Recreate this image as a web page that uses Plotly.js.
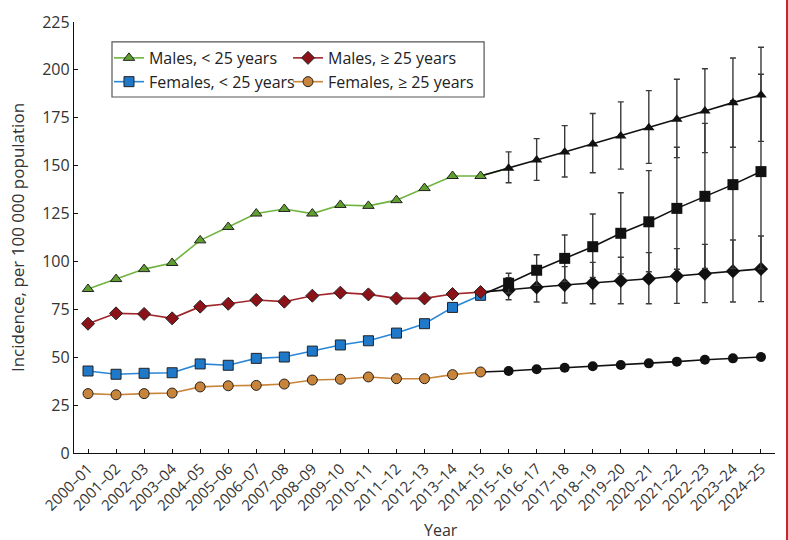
<!DOCTYPE html>
<html>
<head>
<meta charset="utf-8">
<script src="https://cdn.plot.ly/plotly-3.0.1.min.js"></script>
<style>
html,body{margin:0;padding:0;background:#fff;}
#chart{width:788px;height:540px;position:relative;}
#redline{position:absolute;left:786px;top:0;width:2px;height:540px;background:#c8262c;}
</style>
</head>
<body>
<div id="chart"></div>
<div id="redline"></div>
<script>
// ---- data ----
const years = ["2000–01","2001–02","2002–03","2003–04","2004–05","2005–06","2006–07","2007–08","2008–09","2009–10","2010–11","2011–12","2012–13","2013–14","2014–15"];
const projYears = ["2015–16","2016–17","2017–18","2018–19","2019–20","2020–21","2021–22","2022–23","2023–24","2024–25"];

const malesUnder25 = [85.6,90.8,96.0,99.2,111.0,118.0,125.0,127.4,125.0,129.5,129.0,132.0,138.3,144.6,144.6];
const malesOver25 = [67.5,72.9,72.6,70.3,76.4,77.9,79.9,79.0,82.1,83.7,82.8,80.7,80.7,83.0,84.0];
const femalesUnder25 = [42.8,41.1,41.6,41.9,46.5,45.8,49.4,50.1,53.2,56.4,58.6,62.6,67.5,76.0,82.3];
const femalesOver25 = [31.0,30.4,31.0,31.3,34.5,35.1,35.3,36.0,38.1,38.5,39.7,38.8,38.8,40.9,42.3];

const projMalesUnder25 = [148.6,153.0,157.1,161.3,165.5,169.8,174.2,178.5,182.9,186.9];
const projMalesUnder25Hi = [157.2,164.1,170.9,177.2,183.3,189.2,195.1,200.6,206.2,211.8];
const projMalesUnder25Lo = [141.1,142.3,144.1,146.3,148.2,151.2,154.2,156.8,159.6,162.7];

const projFemalesUnder25 = [88.6,95.4,101.6,107.7,114.7,120.7,127.7,134.0,140.1,146.9];
const projFemalesUnder25Hi = [93.8,103.5,113.8,124.8,135.9,147.4,159.6,172.1,183.9,197.7];
const projFemalesUnder25Lo = [83.5,87.5,89.5,91.7,93.5,94.6,95.9,96.4,96.3,96.1];

const projMalesOver25 = [85.1,86.5,87.7,88.7,89.9,91.0,92.4,93.6,94.9,96.1];
const projMalesOver25Hi = [91.5,94.5,97.3,99.5,102.2,104.6,106.7,108.9,111.2,113.3];
const projMalesOver25Lo = [80.0,78.8,78.3,77.9,77.9,77.9,78.1,78.5,78.8,79.0];

const projFemalesOver25 = [42.8,43.7,44.5,45.3,45.9,46.8,47.7,48.7,49.4,50.1];

const seriesNames = ["Males, < 25 years","Males, ≥ 25 years","Females, < 25 years","Females, ≥ 25 years"];
const tickVals = [0,25,50,75,100,125,150,175,200,225];
const xTitle = "Year";
const yTitle = "Incidence, per 100 000 population";

// ---- build ----
const FONT = "Open Sans, sans-serif";
const allYears = years.concat(projYears);

function proj(vals, hi, lo, symbol, size, joinHist) {
  const last = joinHist[joinHist.length-1];
  const x = [years[years.length-1]].concat(projYears);
  const y = [last].concat(vals);
  const t = {
    x: x, y: y, type: "scatter", mode: "lines+markers", showlegend: false, hoverinfo: "skip",
    line: {color: "#111", width: 1.6},
    marker: {symbol: symbol, color: "#111", opacity: 1, size: [0].concat(vals.map(() => size)), line: {width: 0}}
  };
  if (hi) {
    t.error_y = {type: "data", symmetric: false,
      array: [null].concat(hi.map((h,i) => h - vals[i])),
      arrayminus: [null].concat(lo.map((l,i) => vals[i] - l)),
      color: "#3a3a3a", thickness: 1.4, width: 3};
  }
  return t;
}

function hist(name, vals, color, lineColor, symbol, size, legend) {
  return {
    x: years, y: vals, name: name, type: "scatter", mode: "lines+markers", legend: legend,
    line: {color: lineColor, width: 1.6},
    marker: {symbol: symbol, color: color, size: size, line: {color: "#222", width: 1}}
  };
}

// green line continues into first projected year
const greenJoin = {
  x: [years[years.length-1], projYears[0]], y: [malesUnder25[malesUnder25.length-1], projMalesUnder25[0]],
  type: "scatter", mode: "lines", showlegend: false, hoverinfo: "skip", line: {color: "#6fb43f", width: 1.6}
};

const traces = [
  greenJoin,
  proj(projFemalesOver25, null, null, "circle", 10, femalesOver25),
  proj(projMalesOver25, projMalesOver25Hi, projMalesOver25Lo, "diamond", 11, malesOver25),
  proj(projFemalesUnder25, projFemalesUnder25Hi, projFemalesUnder25Lo, "square", 11, femalesUnder25),
  proj(projMalesUnder25, projMalesUnder25Hi, projMalesUnder25Lo, "triangle-up", 10, malesUnder25),
  hist(seriesNames[0], malesUnder25, "#5f9e2f", "#6fb43f", "triangle-up", 10, "legend"),
  hist(seriesNames[2], femalesUnder25, "#1f78c8", "#2a86d6", "square", 10, "legend"),
  hist(seriesNames[1], malesOver25, "#8b1218", "#a0262b", "diamond", 10, "legend2"),
  hist(seriesNames[3], femalesOver25, "#c8843a", "#c8843a", "circle", 10, "legend2")
];

const legendCommon = {
  orientation: "v", bgcolor: "rgba(0,0,0,0)", borderwidth: 0,
  font: {family: FONT, size: 16, color: "#222"}, tracegroupgap: 0,
  itemwidth: 30, yanchor: "top", xanchor: "left"
};

const layout = {
  width: 788, height: 540,
  margin: {l: 74, r: 13, t: 22, b: 87},
  paper_bgcolor: "#fff", plot_bgcolor: "#fff",
  font: {family: FONT, size: 16, color: "#333"},
  xaxis: {
    type: "category", categoryorder: "array", categoryarray: allYears,
    range: [-0.5, 24.5], showline: true, linecolor: "#111", linewidth: 1.2,
    ticks: "inside", ticklen: 4, tickcolor: "#111", tickangle: -45,
    tickfont: {family: FONT, size: 15, color: "#333"}, showgrid: false, zeroline: false
  },
  yaxis: {
    range: [0, 225], tickvals: tickVals, showline: true, linecolor: "#111", linewidth: 1.2,
    ticks: "inside", ticklen: 4, tickcolor: "#111", showgrid: false, zeroline: false,
    tickfont: {family: FONT, size: 16, color: "#333"},
    title: {text: yTitle, font: {family: FONT, size: 17, color: "#333"}, standoff: 13}
  },
  annotations: [{text: xTitle, xref: "paper", yref: "paper", x: 0.524, y: -0.1787,
    xanchor: "center", yanchor: "middle", showarrow: false,
    font: {family: FONT, size: 16, color: "#333"}}],
  legend: Object.assign({}, legendCommon, {x: 0.0499, y: 0.956}),
  legend2: Object.assign({}, legendCommon, {x: 0.3053, y: 0.956}),
  shapes: [{type: "rect", xref: "paper", yref: "paper", x0: 0.0542, x1: 0.585, y0: 0.826, y1: 0.954,
    line: {color: "#555", width: 1.2}, fillcolor: "rgba(0,0,0,0)"}],
  showlegend: true
};

Plotly.newPlot("chart", traces, layout, {displayModeBar: false, staticPlot: true});
</script>
</body>
</html>
